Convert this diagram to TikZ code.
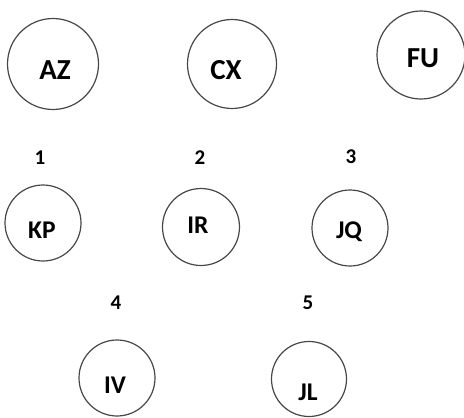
\documentclass[tikz,border=0pt]{standalone}
\usepackage{fontspec}
\setmainfont{Carlito}
\begin{document}
\begin{tikzpicture}[x=1pt,y=-1pt,
  ring/.style={draw=black!72,line width=1.2pt,circle,inner sep=0pt},
  big/.style={font=\bfseries\fontsize{29}{29}\selectfont,inner sep=0pt,anchor=center},
  mid/.style={font=\bfseries\fontsize{25.5}{25.5}\selectfont,inner sep=0pt,anchor=center},
  num/.style={font=\bfseries\fontsize{21}{21}\selectfont,inner sep=0pt,anchor=center}]
\useasboundingbox (0,0) rectangle (464,418);
% top row
\node[ring,minimum size=91pt] (cAZ) at (53,64) {};
\node[big] (tAZ) at (55,70) {AZ};
\node[ring,minimum size=89pt] (cCX) at (232,64) {};
\node[big] (tCX) at (226,70) {CX};
\node[ring,minimum size=88pt] (cFU) at (421,55) {};
\node[big] (tFU) at (423,58) {FU};
% middle row
\node[num] (n1) at (40,158) {1};
\node[num] (n2) at (200,158) {2};
\node[num] (n3) at (351,157) {3};
\node[ring,minimum size=76pt] (cKP) at (43,223) {};
\node[mid] (tKP) at (42,230) {KP};
\node[ring,minimum size=77pt] (cIR) at (201,227) {};
\node[mid] (tIR) at (198,225) {IR};
\node[ring,minimum size=76pt] (cJQ) at (350,228) {};
\node[mid] (tJQ) at (349,232) {JQ};
% bottom row
\node[num] (n4) at (116,303) {4};
\node[num] (n5) at (308,303) {5};
\node[ring,minimum size=76pt] (cIV) at (117,378) {};
\node[mid] (tIV) at (115,385) {IV};
\node[ring,minimum size=75pt] (cJL) at (309,379) {};
\node[mid] (tJL) at (308,392) {JL};
\end{tikzpicture}
\end{document}
